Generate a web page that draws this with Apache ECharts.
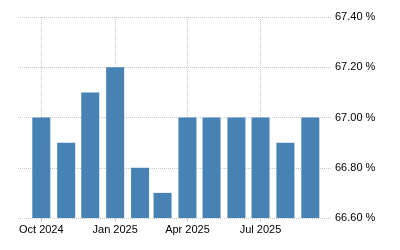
<!DOCTYPE html>
<html><head><meta charset="utf-8">
<script src="https://cdn.jsdelivr.net/npm/echarts@6/dist/echarts.min.js"></script>
<style>html,body{margin:0;padding:0;background:#fff}#c{width:400px;height:250px}</style>
</head><body><div id="c"></div>
<script>
var months = ['2024-10','2024-11','2024-12','2025-01','2025-02','2025-03','2025-04','2025-05','2025-06','2025-07','2025-08','2025-09'];
var values = [67.0, 66.9, 67.1, 67.2, 66.8, 66.7, 67.0, 67.0, 67.0, 67.0, 66.9, 67.0];
var xTickMonths = ['2024-10','2025-01','2025-04','2025-07'];
var monthNames = ['Jan','Feb','Mar','Apr','May','Jun','Jul','Aug','Sep','Oct','Nov','Dec'];
var xMinDate = '2024-09-02', xMaxDate = '2025-09-28';
var yMin = 66.6, yMax = 67.4, yStep = 0.2;

function ts(s){ var p = s.split('-'); return Date.UTC(+p[0], +p[1]-1, p[2] ? +p[2] : 1); }
var data = months.map(function(m,i){ return [ts(m), values[i]]; });
var tickVals = xTickMonths.map(ts);

var chart = echarts.init(document.getElementById('c'), null, {renderer:'canvas'});
var gridLine = {color:'#c8c8c8', type:[1,1], width:1};
chart.setOption({
  animation:false,
  grid:{left:18, right:68, top:17, bottom:32, containLabel:false},
  xAxis:{
    type:'value', min:ts(xMinDate), max:ts(xMaxDate), scale:true,
    axisLine:{show:false},
    axisTick:{show:true, length:4, lineStyle:{color:'#cccccc'}, customValues:tickVals},
    axisLabel:{customValues:tickVals, margin:6, color:'#000', fontSize:11, fontFamily:'Liberation Sans, Arial, sans-serif',
      formatter:function(v){ var d=new Date(v); return monthNames[d.getUTCMonth()]+' '+d.getUTCFullYear(); }},
    splitLine:{show:true, lineStyle:gridLine}
  },
  yAxis:{
    type:'value', position:'right', min:yMin, max:yMax, interval:yStep,
    axisLine:{show:false}, axisTick:{show:false},
    axisLabel:{margin:3, color:'#000', fontSize:11, fontFamily:'Liberation Sans, Arial, sans-serif',
      formatter:function(v){ return v.toFixed(2)+' %'; }},
    splitLine:{show:true, lineStyle:gridLine}
  },
  series:[{type:'bar', data:data, barWidth:18, itemStyle:{color:'#4682b4'}}]
});
</script></body></html>
